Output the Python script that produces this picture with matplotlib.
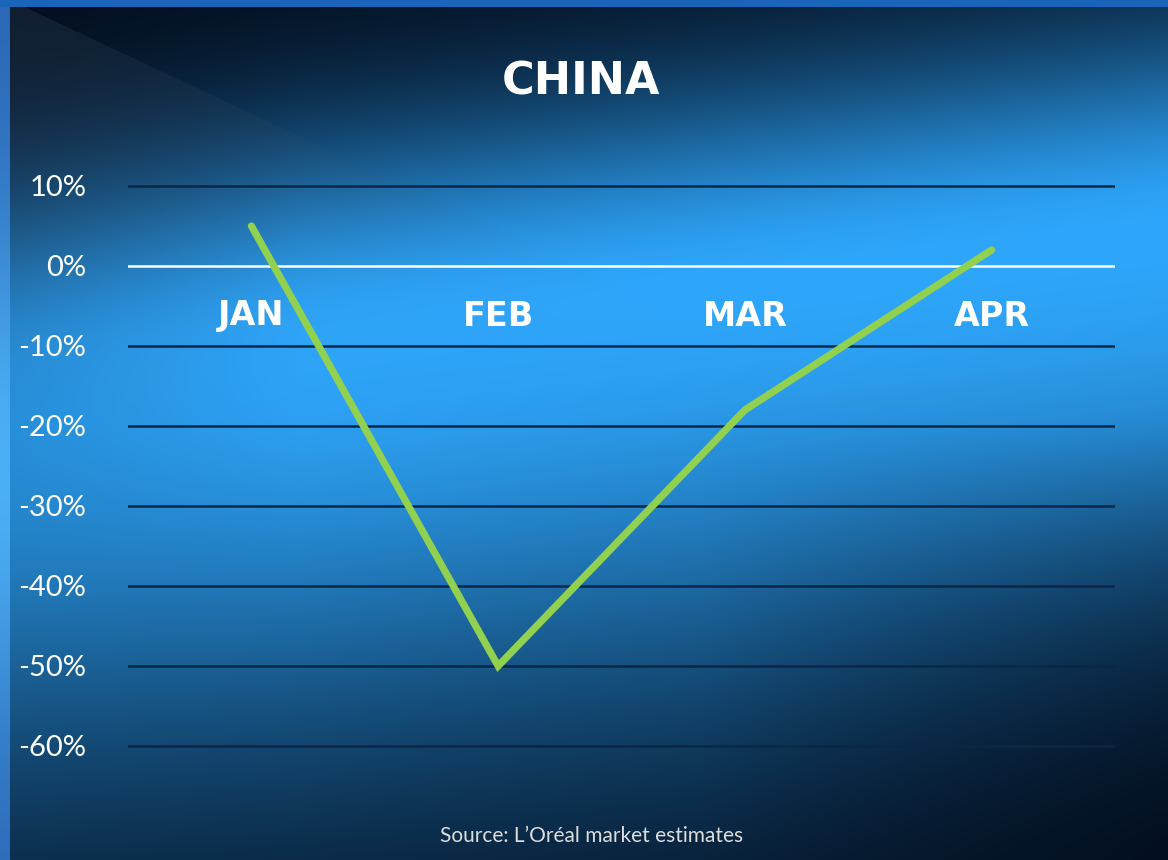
import numpy as np
import matplotlib.pyplot as plt
from matplotlib.colors import to_rgb

months = ["JAN", "FEB", "MAR", "APR"]
growth = [0.05, -0.50, -0.18, 0.02]
yticks = [0.10, 0.0, -0.10, -0.20, -0.30, -0.40, -0.50, -0.60]
ytick_labels = ["10%", "0%", "-10%", "-20%", "-30%", "-40%", "-50%", "-60%"]
title = "CHINA"
source = "Source: L\u2019Or\u00e9al market estimates"

W, H = 1168, 860


def make_background(w, h):
    yy, xx = np.mgrid[0:h, 0:w].astype(float)
    dark = np.array(to_rgb("#020b1a"))
    bright = np.array(to_rgb("#2ea6fb"))
    yc = 370 - 0.12 * xx
    d = yy - yc
    sig = np.where(d < 0, 200.0, 420.0)
    t = np.exp(-(d / sig) ** 2)
    t *= 1 - 0.28 * np.clip((300 - xx) / 300.0, 0, 1) * np.clip(1 - yy / 860.0, 0.3, 1)
    t *= 1 - 0.75 * np.clip((xx - 700) / 460.0, 0, 1) * np.clip((yy - 420) / 420.0, 0, 1)
    img = dark[None, None, :] + t[..., None] * (bright - dark)[None, None, :]
    # greyish wedge from the top-left corner
    wedge = yy > 0.47 * (xx - 10)
    fade = np.clip(1 - yy / 420.0, 0, 1) * np.clip(1 - xx / 700.0, 0, 1)
    grey = np.array(to_rgb("#4a5a70"))
    a = (wedge * fade * 0.22)[..., None]
    img = img * (1 - a) + grey * a
    # frame strips on the left and top
    c0, c1 = np.array(to_rgb("#2a66b4")), np.array(to_rgb("#4cb0f6"))
    left = c0 + np.exp(-((yy - 470) / 260.0) ** 2)[..., None] * (c1 - c0)
    img[:, :10] = left[:, :10]
    img[:7, :] = np.array(to_rgb("#1a64bb"))
    return np.clip(img, 0, 1)


fig = plt.figure(figsize=(W / 100, H / 100), dpi=100)
bg = fig.add_axes([0, 0, 1, 1], zorder=-1)
bg.imshow(make_background(W, H), aspect="auto", interpolation="bilinear")
bg.axis("off")

ax = fig.add_axes([128 / W, (H - 786) / H, (1115 - 128) / W, (786 - 170) / H])
ax.set_facecolor("none")
x = np.arange(len(months))
ax.set_xlim(-0.5, len(months) - 0.5)
ax.set_ylim(-0.65, 0.12)

for v in yticks:
    if v == 0:
        ax.axhline(v, color="white", lw=1.8, zorder=2)
    else:
        ax.axhline(v, color="#0b2745", lw=1.8, zorder=1)

ax.plot(x, growth, color="#92d050", lw=5.2, solid_capstyle="round", solid_joinstyle="miter", zorder=3)

for xi, m in zip(x, months):
    ax.text(xi, -0.0625, m, ha="center", va="center", color="white",
            fontsize=24, fontweight="bold", zorder=4)

ax.set_xticks([])
ax.set_yticks(yticks)
ax.set_yticklabels(ytick_labels, fontfamily=["Lato", "DejaVu Sans"], fontweight="normal")
ax.tick_params(axis="y", length=0, pad=30, labelcolor="white", labelsize=21)
for s in ax.spines.values():
    s.set_visible(False)

fig.text(581 / W, 1 - 82 / H, title, ha="center", va="center", color="white",
         fontsize=32, fontweight="bold")
fig.text(592 / W, 1 - 836 / H, source, ha="center", va="center", color="#dcdcdc",
         fontsize=15, family=["Lato", "DejaVu Sans"], fontweight="normal")

fig.savefig("out.png", dpi=100)
